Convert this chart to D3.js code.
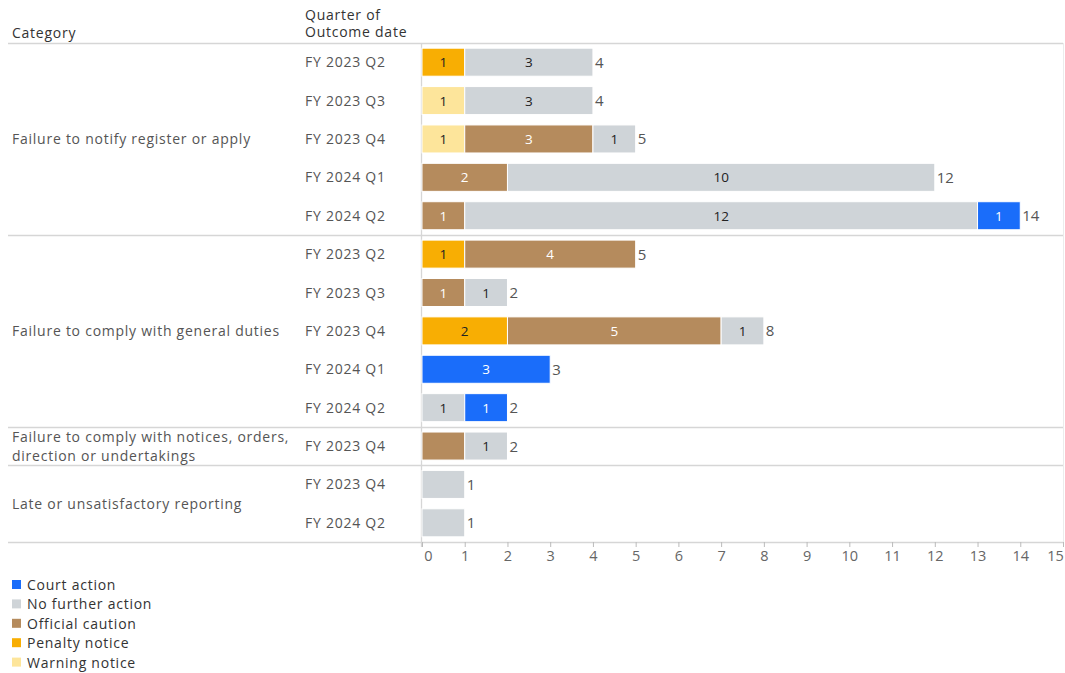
<!DOCTYPE html>
<html>
<head>
<meta charset="utf-8">
<script src="https://cdn.jsdelivr.net/npm/d3@7"></script>
<style>
  body { margin: 0; background: #fff; }
  text { font-family: "Open Sans", "Noto Sans", sans-serif; }
  .lbl { letter-spacing: 0.75px; }
</style>
</head>
<body>
<div id="chart"></div>
<script>
// rows of the table
const categories = [
  "Failure to notify register or apply", "Failure to notify register or apply", "Failure to notify register or apply",
  "Failure to notify register or apply", "Failure to notify register or apply",
  "Failure to comply with general duties", "Failure to comply with general duties", "Failure to comply with general duties",
  "Failure to comply with general duties", "Failure to comply with general duties",
  "Failure to comply with notices, orders, direction or undertakings",
  "Late or unsatisfactory reporting", "Late or unsatisfactory reporting"
];
const quarters = [
  "FY 2023 Q2", "FY 2023 Q3", "FY 2023 Q4", "FY 2024 Q1", "FY 2024 Q2",
  "FY 2023 Q2", "FY 2023 Q3", "FY 2023 Q4", "FY 2024 Q1", "FY 2024 Q2",
  "FY 2023 Q4",
  "FY 2023 Q4", "FY 2024 Q2"
];
// category labels (with line breaks)
const categoryLabels = [
  ["Failure to notify register or apply"],
  ["Failure to comply with general duties"],
  ["Failure to comply with notices, orders,", "direction or undertakings"],
  ["Late or unsatisfactory reporting"]
];
const categoryNames = ["Failure to notify register or apply", "Failure to comply with general duties",
  "Failure to comply with notices, orders, direction or undertakings", "Late or unsatisfactory reporting"];

// series values per row
const penaltyNotice   = [1, 0, 0, 0, 0, 1, 0, 2, 0, 0, 0, 0, 0];
const warningNotice   = [0, 1, 1, 0, 0, 0, 0, 0, 0, 0, 0, 0, 0];
const officialCaution = [0, 0, 3, 2, 1, 4, 1, 5, 0, 0, 1, 0, 0];
const noFurtherAction = [3, 3, 1, 10, 12, 0, 1, 1, 0, 1, 1, 1, 1];
const courtAction     = [0, 0, 0, 0, 1, 0, 0, 0, 3, 1, 0, 0, 0];

// segment labels that the original leaves out
const hiddenLabels = ["10|Official caution", "11|No further action", "12|No further action"];

const legendNames = ["Court action", "No further action", "Official caution", "Penalty notice", "Warning notice"];
const xTicks = d3.range(0, 16);

function main() {
    const width = 1065, height = 673;
    const colors = {
        "Court action": "#1a6dfa",
        "No further action": "#cfd4d8",
        "Official caution": "#b58b5d",
        "Penalty notice": "#f8ae03",
        "Warning notice": "#fde59b"
    };
    const labelColors = {
        "Court action": "#fff",
        "No further action": "#222",
        "Official caution": "#fff",
        "Penalty notice": "#222",
        "Warning notice": "#222"
    };
    // stacking order left to right
    const stackOrder = ["Penalty notice", "Warning notice", "Official caution", "No further action", "Court action"];
    const seriesValues = {
        "Penalty notice": penaltyNotice,
        "Warning notice": warningNotice,
        "Official caution": officialCaution,
        "No further action": noFurtherAction,
        "Court action": courtAction
    };

    const rows = quarters.map(function(q, i) {
        const r = { i: i, quarter: q, category: categories[i] };
        stackOrder.forEach(function(s) { r[s] = seriesValues[s][i]; });
        r.total = d3.sum(stackOrder, function(s) { return r[s]; });
        return r;
    });

    const top = 43, bottom = 542;
    const left = 422, right = 1063;
    const fs = 14;

    const x = d3.scaleLinear().domain([0, 15]).range([left, right]);
    const y = d3.scaleBand().domain(d3.range(rows.length)).range([top, bottom]).paddingInner(0.27).paddingOuter(0.135);
    const rowStep = (bottom - top) / rows.length;

    const svg = d3.select("#chart").append("svg")
        .attr("width", width)
        .attr("height", height);

    const lineColor = "#d6d6d6";

    // group boundaries
    const boundaries = [top];
    let count = 0;
    categoryNames.forEach(function(c) {
        count += categories.filter(function(d) { return d === c; }).length;
        boundaries.push(top + count * rowStep);
    });

    svg.append("g").selectAll("line")
        .data(boundaries)
        .enter().append("line")
        .attr("x1", 8).attr("x2", right)
        .attr("y1", function(d) { return Math.round(d) + 0.5; })
        .attr("y2", function(d) { return Math.round(d) + 0.5; })
        .attr("stroke", lineColor)
        .attr("stroke-width", 1.3);

    // vertical lines: axis line and right border
    svg.append("line")
        .attr("x1", left - 0.5).attr("x2", left - 0.5)
        .attr("y1", top).attr("y2", bottom + 5)
        .attr("stroke", lineColor).attr("stroke-width", 1.3);
    svg.append("line")
        .attr("x1", right + 0.5).attr("x2", right + 0.5)
        .attr("y1", top).attr("y2", bottom)
        .attr("stroke", "#ececec").attr("stroke-width", 1);

    // headers
    svg.append("text").attr("class", "lbl").attr("x", 12).attr("y", 38)
        .attr("font-size", fs).attr("fill", "#333").text("Category");
    svg.append("text").attr("class", "lbl").attr("x", 305).attr("y", 20)
        .attr("font-size", fs).attr("fill", "#333").text("Quarter of");
    svg.append("text").attr("class", "lbl").attr("x", 305).attr("y", 37)
        .attr("font-size", fs).attr("fill", "#333").text("Outcome date");

    // category labels
    categoryNames.forEach(function(c, k) {
        const mid = (boundaries[k] + boundaries[k + 1]) / 2;
        const lines = categoryLabels[k];
        const t = svg.append("text")
            .attr("class", "lbl")
            .attr("x", 12)
            .attr("font-size", fs)
            .attr("fill", "#555");
        lines.forEach(function(l, j) {
            t.append("tspan")
                .attr("x", 12)
                .attr("y", mid + 5 + (j - (lines.length - 1) / 2) * 19)
                .text(l);
        });
    });

    // quarter labels
    svg.append("g").selectAll("text")
        .data(rows)
        .enter().append("text")
        .attr("class", "lbl")
        .attr("x", 305)
        .attr("y", function(d) { return y(d.i) + y.bandwidth() / 2 + 5; })
        .attr("font-size", fs)
        .attr("fill", "#555")
        .text(function(d) { return d.quarter; });

    // stacked bars
    const stacked = d3.stack().keys(stackOrder)(rows);

    const layer = svg.append("g").selectAll("g")
        .data(stacked)
        .enter().append("g");

    layer.selectAll("rect")
        .data(function(s) { return s.map(function(d) { return { key: s.key, v0: d[0], v1: d[1], row: d.data }; }); })
        .enter().filter(function(d) { return d.v1 > d.v0; })
        .append("rect")
        .attr("x", function(d) { return x(d.v0); })
        .attr("width", function(d) { return x(d.v1) - x(d.v0); })
        .attr("y", function(d) { return y(d.row.i); })
        .attr("height", y.bandwidth())
        .attr("fill", function(d) { return colors[d.key]; })
        .attr("stroke", "#fff")
        .attr("stroke-width", 1);

    layer.selectAll("text")
        .data(function(s) { return s.map(function(d) { return { key: s.key, v0: d[0], v1: d[1], row: d.data }; }); })
        .enter().filter(function(d) {
            return d.v1 > d.v0 && hiddenLabels.indexOf(d.row.i + "|" + d.key) < 0;
        })
        .append("text")
        .attr("x", function(d) { return (x(d.v0) + x(d.v1)) / 2; })
        .attr("y", function(d) { return y(d.row.i) + y.bandwidth() / 2 + 5; })
        .attr("text-anchor", "middle")
        .attr("font-size", 13.5)
        .attr("fill", function(d) { return labelColors[d.key]; })
        .text(function(d) { return d.v1 - d.v0; });

    // totals
    svg.append("g").selectAll("text")
        .data(rows)
        .enter().append("text")
        .attr("x", function(d) { return x(d.total) + 2; })
        .attr("y", function(d) { return y(d.i) + y.bandwidth() / 2 + 5.5; })
        .attr("font-size", 15)
        .attr("fill", "#555")
        .text(function(d) { return d.total; });

    // x axis
    const axis = svg.append("g")
        .attr("transform", `translate(0, ${bottom})`)
        .call(d3.axisBottom(x).tickValues(xTicks).tickSize(5).tickSizeOuter(0).tickPadding(4));
    axis.select(".domain").remove();
    axis.selectAll(".tick line").attr("stroke", "#bbb");
    axis.selectAll(".tick text")
        .attr("font-size", 14.5)
        .attr("font-family", "'Open Sans', sans-serif")
        .attr("fill", "#666")
        .attr("dx", function(d) { return d === 0 ? 6 : (d === 15 ? -8 : 0); });

    // legend
    const legend = svg.append("g").selectAll("g")
        .data(legendNames)
        .enter().append("g")
        .attr("transform", function(d, i) { return `translate(12, ${585 + i * 19.4})`; });
    legend.append("rect")
        .attr("x", 0).attr("y", -5)
        .attr("width", 9).attr("height", 9)
        .attr("fill", function(d) { return colors[d]; });
    legend.append("text")
        .attr("class", "lbl")
        .attr("x", 15).attr("y", 5)
        .attr("font-size", fs)
        .attr("fill", "#333")
        .text(function(d) { return d; });
}

main();
</script>
</body>
</html>
